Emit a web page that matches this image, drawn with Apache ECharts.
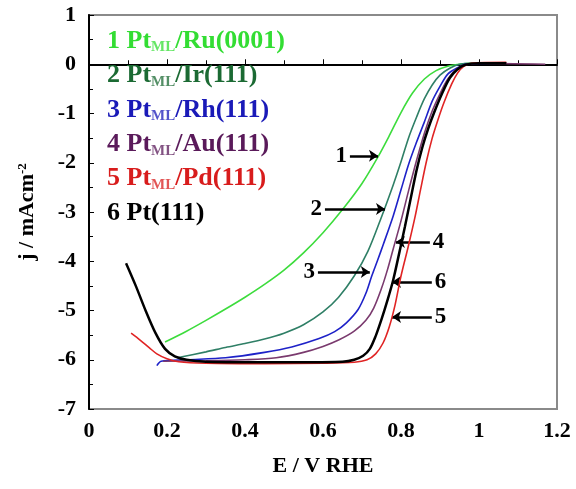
<!DOCTYPE html>
<html>
<head>
<meta charset="utf-8">
<script src="https://cdn.jsdelivr.net/npm/echarts@6/dist/echarts.min.js"></script>
<style>
  html, body { margin: 0; padding: 0; background: #fff; }
  #main { width: 576px; height: 489px; }
</style>
</head>
<body>
<div id="main"></div>
<script>
// 曲线数据 [E / V, j / mAcm-2]
var ruData = [[0.195,-5.64],[0.25,-5.42],[0.3,-5.2],[0.35,-4.97],[0.4,-4.73],[0.45,-4.47],[0.5,-4.18],[0.55,-3.83],[0.6,-3.42],[0.65,-2.95],[0.7,-2.42],[0.741,-1.88],[0.77,-1.45],[0.8,-0.98],[0.83,-0.58],[0.86,-0.3],[0.89,-0.13],[0.92,-0.04],[0.95,0.0],[0.98,0.02],[1.07,0.02]];
var irData = [[0.226,-5.96],[0.3,-5.84],[0.35,-5.75],[0.4,-5.67],[0.45,-5.58],[0.5,-5.46],[0.55,-5.29],[0.6,-5.03],[0.64,-4.73],[0.68,-4.3],[0.715,-3.8],[0.75,-3.1],[0.78,-2.45],[0.8,-1.98],[0.82,-1.48],[0.84,-1.07],[0.86,-0.7],[0.88,-0.42],[0.9,-0.22],[0.925,-0.08],[0.95,0.0],[0.98,0.02],[1.07,0.02]];
var rhData = [[0.174,-6.12],[0.185,-6.03],[0.25,-6.0],[0.35,-5.96],[0.45,-5.85],[0.52,-5.74],[0.59,-5.57],[0.63,-5.43],[0.66,-5.25],[0.69,-4.98],[0.71,-4.65],[0.725,-4.3],[0.74,-3.98],[0.755,-3.65],[0.78,-3.08],[0.8,-2.55],[0.82,-2.02],[0.84,-1.58],[0.86,-1.17],[0.88,-0.75],[0.9,-0.45],[0.92,-0.2],[0.945,-0.07],[0.97,0.01],[1.07,0.02]];
var auData = [[0.19,-6.03],[0.3,-6.02],[0.4,-6.0],[0.48,-5.96],[0.55,-5.85],[0.6,-5.73],[0.64,-5.6],[0.68,-5.42],[0.71,-5.2],[0.73,-4.95],[0.75,-4.55],[0.765,-4.18],[0.78,-3.75],[0.8,-3.18],[0.82,-2.55],[0.84,-1.95],[0.86,-1.4],[0.88,-0.95],[0.9,-0.6],[0.92,-0.3],[0.94,-0.12],[0.96,-0.02],[1.0,0.02],[1.17,0.0]];
var pdData = [[0.108,-5.46],[0.131,-5.6],[0.155,-5.76],[0.174,-5.88],[0.2,-5.98],[0.23,-6.04],[0.3,-6.07],[0.45,-6.08],[0.6,-6.07],[0.68,-6.05],[0.713,-6.0],[0.735,-5.88],[0.754,-5.66],[0.77,-5.33],[0.785,-4.88],[0.8,-4.3],[0.818,-3.72],[0.836,-3.1],[0.85,-2.55],[0.865,-1.98],[0.88,-1.5],[0.895,-1.12],[0.91,-0.78],[0.93,-0.4],[0.945,-0.18],[0.96,-0.05],[0.98,0.02],[1.07,0.04]];
var ptData = [[0.095,-4.04],[0.12,-4.5],[0.145,-5.0],[0.17,-5.45],[0.195,-5.78],[0.22,-5.93],[0.25,-6.0],[0.3,-6.04],[0.4,-6.05],[0.55,-6.05],[0.65,-6.04],[0.68,-6.0],[0.703,-5.92],[0.72,-5.78],[0.735,-5.52],[0.75,-5.18],[0.765,-4.8],[0.78,-4.38],[0.795,-3.85],[0.81,-3.3],[0.825,-2.72],[0.84,-2.15],[0.855,-1.68],[0.87,-1.3],[0.885,-0.98],[0.905,-0.6],[0.925,-0.28],[0.945,-0.1],[0.965,-0.01],[1.0,0.02],[1.07,0.02]];

// 图例文字
var seriesNames = ['Ru(0001)', 'Ir(111)', 'Rh(111)', 'Au(111)', 'Pd(111)', 'Pt(111)'];
var seriesColors = ['#3ddc3d', '#2f7f66', '#1e22c8', '#7a3a6e', '#e02424', '#000000'];
var textColors = ['#33dd33', '#1b6a33', '#1a1ab8', '#5a1a5a', '#d81c1c', '#000000'];

// 箭头标注 [编号, E起点, E终点, j]
var arrows = [
  ['1', 0.669, 0.741, -1.86],
  ['2', 0.605, 0.759, -2.94],
  ['3', 0.587, 0.72, -4.22],
  ['4', 0.874, 0.787, -3.61],
  ['6', 0.879, 0.777, -4.42],
  ['5', 0.879, 0.777, -5.13]
];

var serif = '"Liberation Serif", "DejaVu Serif", serif';
var myChart = echarts.init(document.getElementById('main'));

var dataList = [ruData, irData, rhData, auData, pdData, ptData];
var series = dataList.map(function (d, i) {
  return {
    name: seriesNames[i],
    type: 'line',
    data: d,
    showSymbol: false,
    smooth: 0.3,
    lineStyle: { color: seriesColors[i], width: i === 5 ? 2.5 : 1.6 },
    z: 2 + i
  };
});

// 箭头用 markLine 画
series.push({
  type: 'line',
  data: [],
  markLine: {
    silent: true,
    symbol: ['none', 'arrow'],
    symbolSize: 9,
    lineStyle: { color: '#000', width: 2.5, type: 'solid' },
    label: {
      show: true,
      position: 'start',
      distance: 3,
      color: '#000',
      fontFamily: serif,
      fontWeight: 'bold',
      fontSize: 23,
      formatter: function (p) { return p.name; }
    },
    data: arrows.map(function (a) {
      return [{ name: a[0], coord: [a[1], a[3]] }, { coord: [a[2], a[3]] }];
    })
  },
  z: 10
});

var legendTexts = seriesNames.map(function (n, i) {
  var txt = i === 5 ? '{m|' + (i + 1) + ' Pt(111)}' : '{m|' + (i + 1) + ' Pt}{s|ML}{m|/' + n + '}';
  return {
    type: 'text',
    left: 107,
    top: 28 + i * 34.4,
    style: {
      text: txt,
      rich: {
        m: { fill: textColors[i], font: 'bold 26px ' + serif },
        s: { fill: textColors[i], font: 'bold 15px ' + serif, verticalAlign: 'bottom', padding: [13, 0, 0, 0], opacity: 0.75 }
      }
    },
    z: 20
  };
});

var option = {
  animation: false,
  backgroundColor: '#fff',
  grid: { left: 89, right: 19, top: 15, bottom: 80, show: true, borderColor: '#8a8a8a', borderWidth: 2 },
  graphic: legendTexts,
  xAxis: {
    type: 'value',
    min: 0,
    max: 1.2,
    interval: 0.2,
    name: 'E / V RHE',
    nameLocation: 'middle',
    nameGap: 46,
    nameTextStyle: { color: '#000', fontFamily: serif, fontWeight: 'bold', fontSize: 22 },
    axisLine: { lineStyle: { color: '#000', width: 2 } },
    axisTick: { inside: true, length: 5, lineStyle: { color: '#000' } },
    minorTick: { show: true, splitNumber: 2, length: 4, lineStyle: { color: '#000' } },
    splitLine: { show: false },
    axisLabel: {
      margin: 11,
      color: '#000',
      fontFamily: serif,
      fontWeight: 'bold',
      fontSize: 22,
      formatter: function (v) { return String(+v.toFixed(1)); }
    }
  },
  yAxis: {
    type: 'value',
    min: -7,
    max: 1,
    interval: 1,
    name: '{m|j / mAcm}{s|-2}',
    nameLocation: 'middle',
    nameGap: 50,
    nameTextStyle: {
      rich: {
        m: { color: '#000', fontFamily: serif, fontWeight: 'bold', fontSize: 22 },
        s: { color: '#000', fontFamily: serif, fontWeight: 'bold', fontSize: 13, verticalAlign: 'top', padding: [0, 0, 10, 0] }
      }
    },
    axisLine: { lineStyle: { color: '#000', width: 2 } },
    axisTick: { inside: true, length: 5, lineStyle: { color: '#000' } },
    minorTick: { show: true, splitNumber: 2, length: 4, lineStyle: { color: '#000' } },
    splitLine: { show: false },
    axisLabel: {
      margin: 13,
      color: '#000',
      fontFamily: serif,
      fontWeight: 'bold',
      fontSize: 22
    }
  },
  series: series
};

option && myChart.setOption(option);
</script>
</body>
</html>
